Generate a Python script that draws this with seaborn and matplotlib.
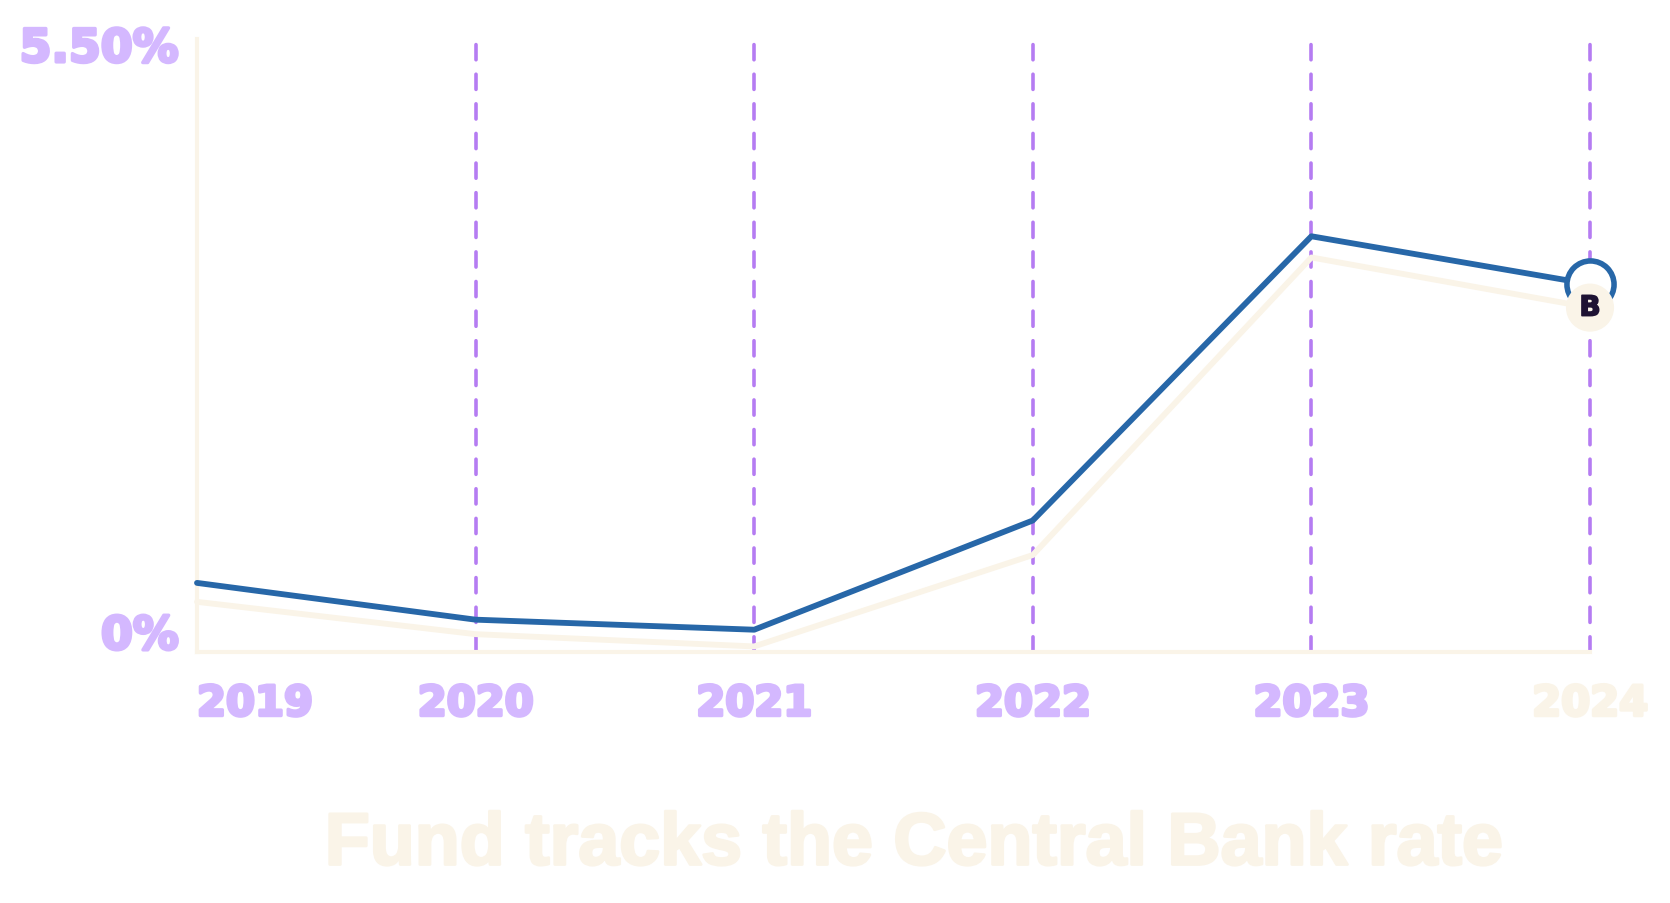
import pandas as pd
import matplotlib.pyplot as plt
import matplotlib.patheffects as pe
import matplotlib.transforms as mtransforms
import seaborn as sns

# chart data
years = [2019, 2020, 2021, 2022, 2023, 2024]
fund_rate = [0.62, 0.29, 0.20, 1.18, 3.73, 3.30]
bank_rate = [0.45, 0.16, 0.05, 0.87, 3.54, 3.09]
y_ticks = [0, 5.5]
y_tick_labels = ['0%', '5.50%']
title = 'Fund tracks the Central Bank rate'

BLUE = '#2767A8'
CREAM = '#FAF4E8'
LAVENDER = '#D4B8FF'
PURPLE = '#B57CF2'

df = pd.DataFrame({
    'year': years * 2,
    'rate': fund_rate + bank_rate,
    'series': ['Fund'] * len(years) + ['Bank'] * len(years),
})

sns.set_style('white')
plt.rcParams['font.family'] = ['DejaVu Sans']


def heavy(color, w=2.2):
    # fake a heavier weight by stroking the glyphs in their own colour
    return [pe.withStroke(linewidth=w, foreground=color)]


fig = plt.figure(figsize=(16.7, 9.04), dpi=100)
ax = fig.add_axes([197 / 1670, 1 - 653 / 904, (1590 - 197) / 1670, (653 - 40) / 904])

# dashed year guides
for yr in years[1:]:
    ax.axvline(yr, color=PURPLE, lw=2.6, dashes=(4.2, 4.0), dash_capstyle='round',
               zorder=1, clip_on=False)

sns.lineplot(data=df, x='year', y='rate', hue='series',
             palette={'Fund': BLUE, 'Bank': CREAM},
             hue_order=['Bank', 'Fund'], linewidth=4.2, legend=False, ax=ax,
             clip_on=False, zorder=3)

# end markers
ax.scatter([years[-1]], [fund_rate[-1]], s=1150, facecolor='white', edgecolor=BLUE,
           linewidth=4, zorder=5, clip_on=False)
ax.scatter([years[-1]], [bank_rate[-1]], s=1200, facecolor=CREAM, edgecolor='none',
           zorder=6, clip_on=False)
ax.text(years[-1], bank_rate[-1], 'B', ha='center', va='center', fontsize=20,
        fontweight='bold', color='#1E1233', zorder=7,
        path_effects=heavy('#1E1233', 1.2))

ax.set_xlim(years[0], years[-1])
ax.set_ylim(0, 5.5)

# y labels
ax.set_yticks([])
y_offsets = [2, -16.5]
for val, lab, dy in zip(y_ticks, y_tick_labels, y_offsets):
    ax.annotate(lab, xy=(0, val), xycoords=('axes fraction', 'data'),
                xytext=(-13, dy), textcoords='offset points', ha='right',
                va='baseline', fontsize=33, fontweight='bold', color=LAVENDER,
                path_effects=heavy(LAVENDER, 2.4), annotation_clip=False)

ax.set_xticks(years)
ax.set_xticklabels([str(y) for y in years], fontsize=30, fontweight='bold',
                   color=LAVENDER)
xlabs = ax.get_xticklabels()
xlabs[0].set_ha('left')
xlabs[0].set_transform(xlabs[0].get_transform() +
                       mtransforms.ScaledTranslation(5 / 72, 0, fig.dpi_scale_trans))
xlabs[-1].set_color(CREAM)
for lab in xlabs:
    lab.set_path_effects(heavy(lab.get_color(), 2.4))

ax.tick_params(axis='x', length=0, pad=22)

for side in ['top', 'right']:
    ax.spines[side].set_visible(False)
for side in ['left', 'bottom']:
    ax.spines[side].set_color(CREAM)
    ax.spines[side].set_linewidth(3)
ax.set_xlabel('')
ax.set_ylabel('')

fig.text(914 / 1670, 1 - 846 / 904, title, ha='center', va='center',
         fontsize=53, fontweight='bold', color=CREAM, family='Liberation Sans',
         path_effects=heavy(CREAM, 2.0))

fig.savefig('out.png', dpi=100)
